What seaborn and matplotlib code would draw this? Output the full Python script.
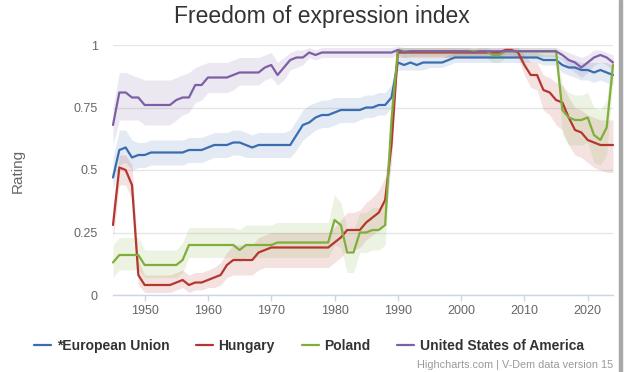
import numpy as np
import pandas as pd
import matplotlib
matplotlib.use("Agg")
import matplotlib.pyplot as plt
from matplotlib.lines import Line2D
from matplotlib.patches import Rectangle
import seaborn as sns

years = list(range(1945, 2025))

eu = [0.47, 0.58, 0.59, 0.55, 0.56, 0.56, 0.57, 0.57, 0.57, 0.57,
      0.57, 0.57, 0.58, 0.58, 0.58, 0.59, 0.60, 0.60, 0.60, 0.61,
      0.61, 0.60, 0.59, 0.60, 0.60, 0.60, 0.60, 0.60, 0.60, 0.64,
      0.68, 0.69, 0.71, 0.72, 0.72, 0.73, 0.74, 0.74, 0.74, 0.74,
      0.75, 0.75, 0.76, 0.76, 0.79, 0.93, 0.92, 0.93, 0.92, 0.93,
      0.93, 0.93, 0.93, 0.94, 0.95, 0.95, 0.95, 0.95, 0.95, 0.95,
      0.95, 0.95, 0.95, 0.95, 0.95, 0.95, 0.95, 0.95, 0.94, 0.94,
      0.94, 0.92, 0.91, 0.91, 0.90, 0.90, 0.89, 0.90, 0.89, 0.88]
eu_lo = [0.42, 0.52, 0.53, 0.50, 0.51, 0.51, 0.52, 0.52, 0.52, 0.52,
         0.52, 0.52, 0.53, 0.53, 0.53, 0.54, 0.55, 0.55, 0.55, 0.56,
         0.56, 0.55, 0.55, 0.55, 0.55, 0.55, 0.55, 0.55, 0.55, 0.58,
         0.62, 0.64, 0.66, 0.67, 0.67, 0.68, 0.69, 0.69, 0.69, 0.70,
         0.71, 0.71, 0.72, 0.72, 0.75, 0.90, 0.90, 0.90, 0.90, 0.90,
         0.91, 0.91, 0.91, 0.92, 0.93, 0.93, 0.93, 0.93, 0.93, 0.93,
         0.93, 0.93, 0.93, 0.93, 0.93, 0.93, 0.93, 0.93, 0.92, 0.92,
         0.92, 0.89, 0.88, 0.87, 0.86, 0.86, 0.85, 0.86, 0.85, 0.84]
eu_hi = [0.55, 0.66, 0.66, 0.62, 0.61, 0.61, 0.62, 0.62, 0.62, 0.62,
         0.62, 0.62, 0.63, 0.63, 0.63, 0.64, 0.65, 0.65, 0.65, 0.66,
         0.66, 0.65, 0.64, 0.65, 0.65, 0.65, 0.65, 0.65, 0.66, 0.70,
         0.74, 0.76, 0.77, 0.78, 0.78, 0.79, 0.79, 0.79, 0.79, 0.79,
         0.80, 0.80, 0.81, 0.81, 0.84, 0.95, 0.95, 0.95, 0.95, 0.95,
         0.95, 0.95, 0.95, 0.96, 0.97, 0.97, 0.97, 0.97, 0.97, 0.97,
         0.97, 0.97, 0.97, 0.97, 0.97, 0.97, 0.97, 0.97, 0.96, 0.96,
         0.96, 0.95, 0.94, 0.94, 0.93, 0.93, 0.93, 0.93, 0.93, 0.92]

hungary = [0.28, 0.51, 0.50, 0.44, 0.08, 0.04, 0.04, 0.04, 0.04, 0.04,
           0.05, 0.06, 0.04, 0.05, 0.05, 0.06, 0.07, 0.08, 0.12, 0.14,
           0.14, 0.14, 0.14, 0.17, 0.18, 0.19, 0.19, 0.19, 0.19, 0.19,
           0.19, 0.19, 0.19, 0.19, 0.19, 0.21, 0.23, 0.26, 0.26, 0.26,
           0.29, 0.31, 0.33, 0.38, 0.60, 0.97, 0.97, 0.97, 0.97, 0.97,
           0.97, 0.97, 0.97, 0.97, 0.97, 0.97, 0.97, 0.97, 0.97, 0.97,
           0.97, 0.97, 0.98, 0.98, 0.97, 0.92, 0.88, 0.88, 0.82, 0.81,
           0.78, 0.77, 0.71, 0.66, 0.65, 0.62, 0.61, 0.60, 0.60, 0.60]
hungary_lo = [0.22, 0.44, 0.44, 0.38, 0.04, 0.01, 0.01, 0.01, 0.01, 0.01,
              0.02, 0.03, 0.01, 0.02, 0.02, 0.03, 0.03, 0.04, 0.07, 0.08,
              0.08, 0.08, 0.08, 0.10, 0.11, 0.11, 0.11, 0.11, 0.11, 0.11,
              0.11, 0.11, 0.11, 0.11, 0.11, 0.13, 0.15, 0.18, 0.18, 0.19,
              0.22, 0.24, 0.26, 0.30, 0.53, 0.95, 0.95, 0.95, 0.95, 0.95,
              0.95, 0.95, 0.95, 0.95, 0.95, 0.95, 0.95, 0.95, 0.95, 0.95,
              0.95, 0.95, 0.96, 0.96, 0.95, 0.88, 0.83, 0.82, 0.74, 0.72,
              0.68, 0.66, 0.60, 0.56, 0.55, 0.53, 0.51, 0.50, 0.49, 0.49]
hungary_hi = [0.36, 0.56, 0.56, 0.52, 0.14, 0.08, 0.08, 0.08, 0.08, 0.08,
              0.09, 0.10, 0.08, 0.09, 0.09, 0.10, 0.11, 0.13, 0.17, 0.20,
              0.20, 0.20, 0.20, 0.23, 0.24, 0.25, 0.25, 0.25, 0.25, 0.25,
              0.25, 0.25, 0.25, 0.25, 0.25, 0.27, 0.30, 0.33, 0.33, 0.34,
              0.37, 0.39, 0.42, 0.47, 0.68, 0.99, 0.99, 0.99, 0.99, 0.99,
              0.99, 0.99, 0.99, 0.99, 0.99, 0.99, 0.99, 0.99, 0.99, 0.99,
              0.99, 0.99, 0.99, 0.99, 0.99, 0.96, 0.93, 0.93, 0.88, 0.87,
              0.85, 0.84, 0.79, 0.75, 0.74, 0.72, 0.71, 0.70, 0.70, 0.70]

poland = [0.13, 0.16, 0.16, 0.16, 0.16, 0.12, 0.12, 0.12, 0.12, 0.12,
          0.12, 0.14, 0.20, 0.20, 0.20, 0.20, 0.20, 0.20, 0.20, 0.20,
          0.18, 0.20, 0.20, 0.20, 0.20, 0.20, 0.21, 0.21, 0.21, 0.21,
          0.21, 0.21, 0.21, 0.21, 0.21, 0.30, 0.28, 0.17, 0.17, 0.25,
          0.25, 0.26, 0.26, 0.28, 0.70, 0.98, 0.975, 0.975, 0.975, 0.975,
          0.975, 0.975, 0.975, 0.975, 0.975, 0.975, 0.975, 0.975, 0.975, 0.975,
          0.96, 0.96, 0.975, 0.975, 0.975, 0.975, 0.975, 0.975, 0.975, 0.975,
          0.975, 0.74, 0.71, 0.70, 0.70, 0.71, 0.64, 0.62, 0.67, 0.92]
poland_lo = [0.07, 0.10, 0.10, 0.10, 0.10, 0.07, 0.07, 0.07, 0.07, 0.07,
             0.07, 0.09, 0.15, 0.15, 0.15, 0.15, 0.15, 0.15, 0.15, 0.15,
             0.13, 0.15, 0.15, 0.15, 0.15, 0.15, 0.15, 0.15, 0.15, 0.15,
             0.15, 0.15, 0.15, 0.15, 0.15, 0.20, 0.19, 0.09, 0.09, 0.17,
             0.17, 0.18, 0.18, 0.20, 0.62, 0.95, 0.95, 0.95, 0.95, 0.95,
             0.95, 0.95, 0.95, 0.95, 0.95, 0.95, 0.95, 0.95, 0.95, 0.95,
             0.93, 0.93, 0.95, 0.95, 0.95, 0.95, 0.95, 0.95, 0.95, 0.95,
             0.95, 0.64, 0.60, 0.60, 0.60, 0.61, 0.53, 0.52, 0.56, 0.86]
poland_hi = [0.20, 0.23, 0.23, 0.23, 0.23, 0.18, 0.18, 0.18, 0.18, 0.18,
             0.18, 0.21, 0.27, 0.27, 0.27, 0.27, 0.27, 0.27, 0.27, 0.27,
             0.26, 0.28, 0.28, 0.28, 0.28, 0.28, 0.29, 0.29, 0.29, 0.29,
             0.29, 0.29, 0.29, 0.29, 0.29, 0.40, 0.37, 0.26, 0.26, 0.33,
             0.33, 0.35, 0.35, 0.37, 0.78, 0.99, 0.99, 0.99, 0.99, 0.99,
             0.99, 0.99, 0.99, 0.99, 0.99, 0.99, 0.99, 0.99, 0.99, 0.99,
             0.98, 0.98, 0.99, 0.99, 0.99, 0.99, 0.99, 0.99, 0.99, 0.99,
             0.99, 0.84, 0.81, 0.80, 0.80, 0.81, 0.75, 0.74, 0.78, 0.97]

usa = [0.68, 0.81, 0.81, 0.79, 0.79, 0.76, 0.76, 0.76, 0.76, 0.76,
       0.78, 0.79, 0.79, 0.84, 0.84, 0.87, 0.87, 0.87, 0.87, 0.88,
       0.89, 0.89, 0.89, 0.89, 0.91, 0.92, 0.88, 0.91, 0.94, 0.95,
       0.95, 0.97, 0.96, 0.97, 0.97, 0.97, 0.97, 0.97, 0.97, 0.97,
       0.97, 0.97, 0.97, 0.97, 0.97, 0.98, 0.97, 0.975, 0.975, 0.975,
       0.975, 0.975, 0.975, 0.975, 0.975, 0.975, 0.975, 0.97, 0.975, 0.975,
       0.975, 0.975, 0.975, 0.975, 0.975, 0.975, 0.975, 0.975, 0.975, 0.975,
       0.975, 0.96, 0.94, 0.93, 0.91, 0.93, 0.95, 0.96, 0.95, 0.93]
usa_lo = [0.60, 0.70, 0.70, 0.70, 0.70, 0.68, 0.68, 0.68, 0.68, 0.68,
          0.70, 0.72, 0.73, 0.77, 0.78, 0.81, 0.81, 0.81, 0.81, 0.82,
          0.84, 0.84, 0.84, 0.84, 0.86, 0.87, 0.84, 0.86, 0.90, 0.91,
          0.92, 0.95, 0.94, 0.95, 0.95, 0.95, 0.95, 0.95, 0.95, 0.95,
          0.95, 0.95, 0.95, 0.95, 0.95, 0.96, 0.95, 0.955, 0.955, 0.955,
          0.955, 0.955, 0.955, 0.955, 0.955, 0.955, 0.955, 0.95, 0.955, 0.955,
          0.955, 0.955, 0.955, 0.955, 0.955, 0.955, 0.955, 0.955, 0.955, 0.955,
          0.955, 0.94, 0.91, 0.89, 0.87, 0.89, 0.92, 0.93, 0.92, 0.90]
usa_hi = [0.75, 0.89, 0.89, 0.88, 0.87, 0.86, 0.86, 0.86, 0.86, 0.86,
          0.87, 0.88, 0.89, 0.91, 0.92, 0.93, 0.93, 0.93, 0.93, 0.94,
          0.95, 0.95, 0.95, 0.95, 0.96, 0.97, 0.93, 0.95, 0.97, 0.98,
          0.98, 0.99, 0.98, 0.99, 0.99, 0.99, 0.99, 0.99, 0.99, 0.99,
          0.99, 0.99, 0.99, 0.99, 0.99, 0.995, 0.99, 0.99, 0.99, 0.99,
          0.99, 0.99, 0.99, 0.99, 0.99, 0.99, 0.99, 0.985, 0.99, 0.99,
          0.99, 0.99, 0.99, 0.99, 0.99, 0.99, 0.99, 0.99, 0.99, 0.99,
          0.99, 0.98, 0.97, 0.96, 0.95, 0.96, 0.98, 0.98, 0.97, 0.96]

names = ["*European Union", "Hungary", "Poland", "United States of America"]
colors = ["#3a6db0", "#b4372f", "#7fae3b", "#7e5fa6"]
series = [eu, hungary, poland, usa]
lows = [eu_lo, hungary_lo, poland_lo, usa_lo]
highs = [eu_hi, hungary_hi, poland_hi, usa_hi]

df = pd.concat([pd.DataFrame({"year": years, "rating": s, "country": n})
                for s, n in zip(series, names)], ignore_index=True)

sns.set_theme(style="white")
plt.rcParams["font.family"] = ["Liberation Sans", "DejaVu Sans"]

fig = plt.figure(figsize=(6.24, 3.72), dpi=100)
ax = fig.add_axes([113 / 624, 1 - 295 / 372, 500 / 624, 250 / 372])

for lo, hi, c in zip(lows, highs, colors):
    ax.fill_between(years, lo, hi, color=c, alpha=0.14, linewidth=0, zorder=1)

sns.lineplot(data=df, x="year", y="rating", hue="country", hue_order=names,
             palette=colors, linewidth=1.6, legend=False, ax=ax, zorder=3)
for ln in ax.lines:
    ln.set_solid_joinstyle("round")
    ln.set_clip_on(False)

ax.set_xlim(1945, 2024)
ax.set_ylim(0, 1)
ax.set_yticks([0, 0.25, 0.5, 0.75, 1])
ax.set_yticklabels(["0", "0.25", "0.5", "0.75", "1"])
ax.set_xticks([1950, 1960, 1970, 1980, 1990, 2000, 2010, 2020])
ax.yaxis.grid(True, color="#e6e6e6", linewidth=1.0, zorder=0)
ax.xaxis.grid(False)
ax.set_axisbelow(True)
for s in ["top", "right", "left"]:
    ax.spines[s].set_visible(False)
ax.spines["bottom"].set_color("#ccd6eb")
ax.spines["bottom"].set_linewidth(1.0)
ax.tick_params(axis="y", length=0, pad=11, labelsize=9, labelcolor="#666666")
ax.tick_params(axis="x", length=4, width=1, color="#ccd6eb", pad=3,
               labelsize=9, labelcolor="#666666", direction="out", bottom=True)
ax.set_xlabel("")
ax.set_ylabel("")

fig.text(18 / 624, 1 - 171 / 372, "Rating", rotation=90, ha="center", va="center",
         fontsize=11, color="#666666")
fig.text(322 / 624, 1 - 16 / 372, "Freedom of expression index", ha="center",
         va="center", fontsize=16.5, color="#333333")

handles = [Line2D([0], [0], color=c, linewidth=1.6) for c in colors]
leg = fig.legend(handles, names, ncol=4, loc="center",
                 bbox_to_anchor=(309 / 624, 1 - 346 / 372), frameon=False,
                 handlelength=1.2, handletextpad=0.4, columnspacing=1.95,
                 prop={"weight": "bold", "size": 10})
for t in leg.get_texts():
    t.set_color("#333333")

fig.text(613 / 624, 1 - 365 / 372, "Highcharts.com | V-Dem data version 15",
         ha="right", va="center", fontsize=7.8, color="#999999")

fig.patches.append(Rectangle((619 / 624, 0), 3 / 624, 1, transform=fig.transFigure,
                             color="#a8a8a8", zorder=5))

fig.savefig("out.png", dpi=100)
